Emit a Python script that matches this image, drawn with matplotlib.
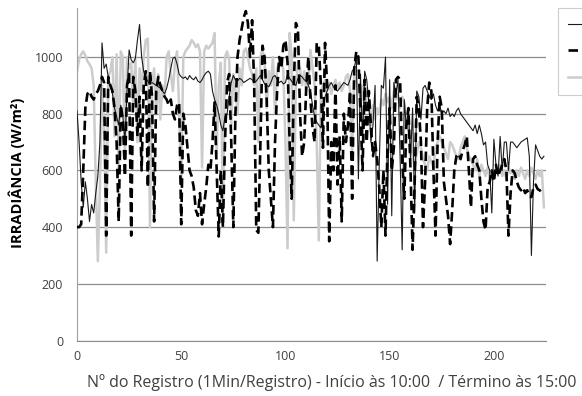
import matplotlib
matplotlib.use("Agg")
import matplotlib.pyplot as plt

plt.rcParams['font.family'] = ['Open Sans', 'DejaVu Sans']

# Registro index (1 min per registro)
registro = list(range(225))

serie_solida = [
    810, 700, 560, 470, 560, 500, 420, 480, 450, 520,
    580, 700, 1050, 960, 975, 930, 900, 870, 820, 790,
    760, 830, 790, 700, 880, 1025, 990, 980, 995, 1060,
    1115, 1000, 950, 925, 915, 905, 910, 905, 900, 895,
    890, 880, 870, 890, 920, 960, 995, 1000, 975, 940,
    930, 925, 930, 920, 935, 925, 920, 930, 915, 910,
    920, 935, 945, 950, 940, 880, 850, 830, 800, 760,
    740, 790, 800, 860, 910, 935, 920, 915, 925, 920,
    910, 915, 920, 925, 920, 910, 915, 925, 935, 920,
    905, 900, 895, 910, 930, 935, 920, 910, 915, 905,
    910, 940, 925, 915, 905, 900, 925, 935, 930, 920,
    915, 900, 880, 830, 790, 770, 760, 750, 800, 860,
    880, 900, 910, 895, 885, 880, 890, 900, 910, 905,
    900, 920, 950, 960, 1000, 570, 940, 700, 950, 920,
    840, 700, 760, 900, 280, 620, 900, 890, 1000, 480,
    920, 440, 910, 870, 920, 650, 320, 850, 750, 820,
    640, 820, 450, 880, 860, 780, 890, 900, 880, 860,
    850, 870, 830, 810, 830, 800, 810, 800, 820, 790,
    800, 790, 810, 820, 800, 790, 780, 770, 760, 750,
    740, 760, 730, 760, 730, 690, 700, 620, 600, 450,
    710, 620, 580, 720, 600, 700, 700, 600, 700, 700,
    690, 680, 690, 700, 705, 710, 715, 650, 300, 560,
    690, 670, 650, 640, 650,
]

serie_tracejada = [
    400, 400, 410, 600, 820, 870, 880, 860, 850, 870,
    880, 900, 930, 910, 370, 930, 900, 880, 820, 700,
    420, 830, 780, 580, 900, 940, 370, 930, 880, 720,
    860, 600, 900, 950, 540, 950, 860, 420, 880, 930,
    900, 880, 860, 850, 830, 850, 800, 780, 830, 840,
    410, 800, 760, 680, 600, 580, 540, 460, 440, 520,
    410, 480, 540, 620, 600, 700, 840, 600, 367, 600,
    400, 700, 910, 940, 700, 400, 800, 1000, 1060, 1100,
    1140, 1162, 1120, 1000, 1130, 900, 390, 380, 700, 1040,
    1000, 850, 600, 500, 400, 700, 880, 1000, 960, 1040,
    1060, 980, 700, 500, 900, 1120, 1100, 800, 650, 700,
    900, 1000, 850, 750, 700, 1050, 1040, 900, 680, 1050,
    900, 350, 700, 600, 900, 550, 720, 420, 800, 700,
    760, 880, 500, 960, 1020, 1000, 800, 600, 920, 700,
    880, 760, 650, 700, 640, 540, 400, 600, 370, 700,
    820, 600, 680, 920, 930, 920, 640, 500, 760, 820,
    600, 320, 560, 860, 820, 700, 400, 560, 820, 910,
    880, 600, 370, 700, 860, 820, 560, 500, 440, 340,
    460, 600, 650, 660, 640, 670, 690, 720, 600, 470,
    640, 650, 620, 600, 500, 420, 390, 540, 560, 600,
    560, 620, 580, 600, 620, 640, 600, 370, 520, 600,
    590, 560, 540, 530, 540, 520, 530, 510, 506, 540,
    550, 534, 530, 520, 518,
]

serie_cinza = [
    950, 990, 1010, 1020, 1005, 985, 975, 960, 900, 560,
    280, 540, 900, 760, 310, 930, 950, 1000, 720, 1010,
    600, 1020, 1000, 640, 1000, 960, 980, 820, 1000, 700,
    960, 880, 1000, 1060, 1065, 400, 900, 960, 800, 940,
    780, 900, 860, 1000, 1020, 940, 880, 980, 1020, 820,
    560, 1000, 1020, 1030, 1040, 1060, 1050, 1035, 1045, 1020,
    610, 1020, 1040, 1030, 1040, 1050, 1085, 660, 900, 980,
    450, 1000, 1020, 990, 760, 940, 880, 800, 960, 900,
    1020, 1030, 1000, 960, 940, 900, 960, 700, 1000, 1030,
    980, 820, 950, 900, 1000, 800, 960, 980, 1000, 950,
    700, 325, 1085, 1000, 424, 900, 980, 960, 900, 950,
    880, 920, 1025, 960, 900, 700, 353, 880, 900, 920,
    880, 910, 870, 900, 920, 890, 910, 880, 900, 930,
    940, 880, 660, 940, 920, 880, 860, 900, 820, 880,
    850, 760, 830, 780, 820, 800, 850, 830, 870, 840,
    860, 820, 880, 850, 870, 820, 860, 840, 780, 740,
    700, 650, 610, 660, 700, 680, 640, 620, 600, 650,
    630, 610, 680, 700, 720, 700, 680, 660, 640, 700,
    690, 670, 650, 640, 680, 700, 720, 680, 650, 640,
    620, 600, 640, 580, 620, 600, 580, 610, 570, 600,
    580, 610, 590, 620, 580, 600, 570, 610, 590, 600,
    570, 600, 580, 610, 590, 570, 600, 580, 610, 590,
    570, 600, 580, 600, 470,
]

y_ticks = [0, 200, 400, 600, 800, 1000]
x_ticks = [0, 50, 100, 150, 200]

fig = plt.figure(figsize=(5.82, 3.96), dpi=100)
ax = fig.add_axes([77 / 582, 1 - 340.5 / 396, (546 - 77) / 582, (340.5 - 8) / 396])

l3, = ax.plot(registro, serie_cinza, color='#cccccc', lw=1.8, zorder=2)
l1, = ax.plot(registro, serie_solida, color='#1a1a1a', lw=0.8, zorder=3)
l2, = ax.plot(registro, serie_tracejada, color='#000000', lw=1.9, zorder=4,
              dashes=(3.6, 1.8), dash_capstyle='butt')

ax.set_xlim(0, 225)
ax.set_ylim(0, 1173)
ax.set_yticks(y_ticks)
ax.set_xticks(x_ticks)
ax.yaxis.grid(True, color='#8c8c8c', lw=0.9)
ax.set_axisbelow(True)
for s in ['top', 'right']:
    ax.spines[s].set_visible(False)
ax.spines['left'].set_color('#a0a0a0')
ax.spines['bottom'].set_color('#8c8c8c')
ax.tick_params(length=0, labelsize=9, colors='#404040')
ax.tick_params(axis='y', pad=10)
ax.tick_params(axis='x', pad=7)

fig.text(332 / 582, 1 - 383 / 396,
         'Nº do Registro (1Min/Registro) - Início às 10:00  / Término às 15:00',
         fontsize=11.5, color='#404040', ha='center', va='center')
fig.text(17 / 582, 1 - 173 / 396, 'IRRADIÂNCIA (W/m²)', fontsize=10.5,
         fontweight='bold', color='#000000', rotation=90, ha='center', va='center')

leg = fig.legend([l1, l2, l3], ['', '', ''],
                 loc='upper left', bbox_to_anchor=(558 / 582, 1 - 8 / 396),
                 borderaxespad=0, frameon=True, fancybox=False, edgecolor='#c0c0c0',
                 handlelength=3.0, fontsize=9, labelspacing=1.1,
                 borderpad=0.8, handletextpad=3.0)
leg.get_frame().set_linewidth(0.8)

fig.savefig('out.png', dpi=100)
